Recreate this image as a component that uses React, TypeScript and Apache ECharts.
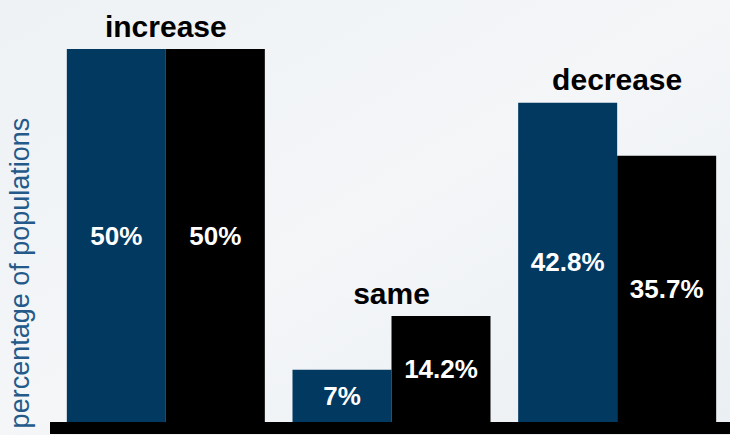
import React, { useEffect, useRef } from "react";
import * as echarts from "echarts";

const categories = ["increase", "same", "decrease"];
const seriesA = [50, 7, 42.8];
const seriesB = [50, 14.2, 35.7];
const valueLabelsA = ["50%", "7%", "42.8%"];
const valueLabelsB = ["50%", "14.2%", "35.7%"];
const yAxisTitle = "percentage of populations";

export default function App() {
  const ref = useRef<HTMLDivElement>(null);
  useEffect(() => {
    if (!ref.current) return;
    const chart = echarts.init(ref.current, undefined, { renderer: "svg" });
    const groupTops = categories.map((_, i) => Math.max(seriesA[i], seriesB[i]));
    const valueLabel = (labels: string[]) => ({
      show: true,
      position: "inside",
      color: "#ffffff",
      fontFamily: "'Liberation Sans', Arial, sans-serif",
      fontWeight: "bold",
      fontSize: 26,
      formatter: (p: any) => labels[p.dataIndex],
    });
    chart.setOption({
      animation: false,
      backgroundColor: {
        type: "linear",
        x: 0,
        y: 0,
        x2: 1,
        y2: 1,
        colorStops: [
          { offset: 0, color: "#eef2f5" },
          { offset: 0.5, color: "#f4f6f8" },
          { offset: 1, color: "#eaeff3" },
        ],
      },
      grid: { left: 53, width: 678, top: 49, bottom: 13, containLabel: false },
      xAxis: [
        {
          type: "category",
          data: categories,
          axisLine: { show: false },
          axisTick: { show: false },
          axisLabel: { show: false },
        },
        {
          type: "category",
          data: categories,
          show: false,
        },
      ],
      yAxis: {
        type: "value",
        min: 0,
        max: 50,
        show: false,
        splitLine: { show: false },
      },
      series: [
        {
          type: "bar",
          xAxisIndex: 0,
          data: seriesA,
          barWidth: 99,
          barGap: "0%",
          itemStyle: { color: "#023961" },
          label: valueLabel(valueLabelsA),
        },
        {
          type: "bar",
          xAxisIndex: 0,
          data: seriesB,
          barWidth: 99,
          barGap: "0%",
          itemStyle: { color: "#000000" },
          label: valueLabel(valueLabelsB),
        },
        {
          type: "bar",
          xAxisIndex: 1,
          data: groupTops,
          barWidth: 198,
          itemStyle: { color: "rgba(0,0,0,0)" },
          silent: true,
          label: {
            show: true,
            position: "top",
            distance: 8,
            color: "#000000",
            fontFamily: "'Liberation Sans', Arial, sans-serif",
            fontWeight: "bold",
            fontSize: 30,
            formatter: (p: any) => categories[p.dataIndex],
          },
        },
      ],
      graphic: [
        {
          type: "rect",
          shape: { x: 50, y: 422, width: 680, height: 12 },
          style: { fill: "#000000" },
          z: 10,
        },
        {
          type: "text",
          x: 20,
          y: 273,
          rotation: Math.PI / 2,
          style: {
            text: yAxisTitle,
            fill: "#245a8a",
            fontFamily: "'Liberation Sans', Arial, sans-serif",
            fontSize: 27,
            align: "center",
            verticalAlign: "middle",
          },
        },
      ],
    });
    return () => chart.dispose();
  }, []);
  return <div ref={ref} style={{ width: 730, height: 435, position: "fixed", left: 0, top: 0 }} />;
}
